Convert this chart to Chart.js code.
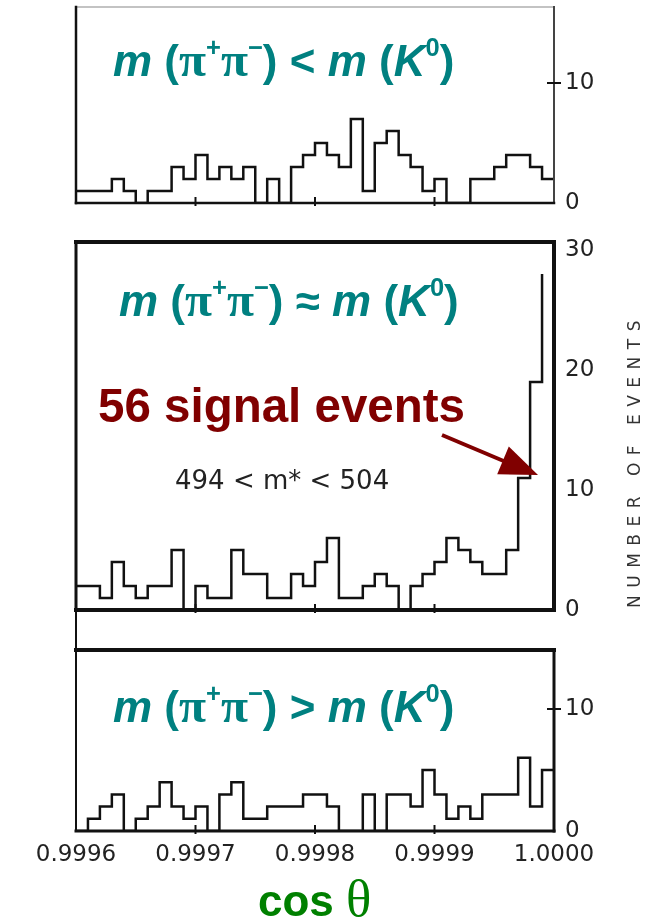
<!DOCTYPE html>
<html><head><meta charset="utf-8">
<script src="https://cdn.jsdelivr.net/npm/chart.js@4.4.1/dist/chart.umd.min.js"></script>
<style>
html,body{margin:0;padding:0;background:#fff;}
body{width:656px;height:918px;position:relative;overflow:hidden;}
canvas{position:absolute;left:0;}
.t{position:absolute;white-space:nowrap;line-height:1;}
.title{font-family:"Liberation Sans",Arial,sans-serif;font-weight:bold;font-size:44px;color:#008080;}
.title i{font-style:italic;}
.pi{font-family:"Liberation Serif","DejaVu Serif",serif;font-size:1.12em;font-weight:bold;}
.sup{font-size:0.58em;position:relative;top:-0.8em;}
.sig{font-family:"Liberation Sans",Arial,sans-serif;font-weight:bold;font-size:47.5px;color:#800000;}
.cut{font-family:"DejaVu Sans",sans-serif;font-size:26px;color:#222;}
.xl{font-family:"Liberation Sans",Arial,sans-serif;font-weight:bold;font-size:44px;color:#008000;}
.xl .th{font-family:"Liberation Serif",serif;font-weight:normal;font-size:1.2em;}
.yl{font-family:"DejaVu Sans",sans-serif;font-size:17px;color:#333;letter-spacing:7.5px;transform:rotate(-90deg);transform-origin:center center;}
svg{position:absolute;left:0;top:0;}
</style></head>
<body>
<canvas id="cTop" width="656" height="250" style="top:-20px"></canvas>
<canvas id="cMid" width="656" height="420" style="top:215px"></canvas>
<canvas id="cBot" width="656" height="295" style="top:623px"></canvas>

<div class="t title" style="left:113px;top:35px"><i>m</i> (<span class="pi">π</span><span class="sup">+</span><span class="pi">π</span><span class="sup">−</span>) &lt; <i>m</i> (<i>K</i><span class="sup">0</span>)</div>
<div class="t title" style="left:119px;top:275px"><i>m</i> (<span class="pi">π</span><span class="sup">+</span><span class="pi">π</span><span class="sup">−</span>) ≈ <i>m</i> (<i>K</i><span class="sup">0</span>)</div>
<div class="t title" style="left:113px;top:681px"><i>m</i> (<span class="pi">π</span><span class="sup">+</span><span class="pi">π</span><span class="sup">−</span>) &gt; <i>m</i> (<i>K</i><span class="sup">0</span>)</div>
<div class="t sig" style="left:98px;top:382px">56 signal events</div>
<div class="t cut" style="left:175px;top:467px">494 &lt; m* &lt; 504</div>
<div class="t xl" style="left:258px;top:872px">cos <span class="th">θ</span></div>
<div class="t yl" style="left:484px;top:452px;width:300px;text-align:center">NUMBER OF EVENTS</div>

<svg width="656" height="918">
  <line x1="76" y1="611" x2="76" y2="651" stroke="#111" stroke-width="2"/>
  <line x1="442" y1="435" x2="506" y2="462" stroke="#800000" stroke-width="4"/>
  <polygon points="538,475 508.8,446.6 497.2,474.2" fill="#800000"/>
</svg>

<script>
// ---- data ----
const binEdges = [0.99960,0.99961,0.99962,0.99963,0.99964,0.99965,0.99966,0.99967,0.99968,0.99969,
                  0.99970,0.99971,0.99972,0.99973,0.99974,0.99975,0.99976,0.99977,0.99978,0.99979,
                  0.99980,0.99981,0.99982,0.99983,0.99984,0.99985,0.99986,0.99987,0.99988,0.99989,
                  0.99990,0.99991,0.99992,0.99993,0.99994,0.99995,0.99996,0.99997,0.99998,0.99999,
                  1.00000];
const countsLow  = [1,1,1,2,1,0,1,1,3,2, 4,2,3,2,3,0,2,0,3,4, 5,4,3,7,1,5,6,4,3,1, 2,0,0,2,2,3,4,4,3,2];
const countsMid  = [2,2,1,4,2,1,2,2,5,0, 2,1,1,5,3,3,1,1,3,2, 4,6,1,1,2,3,2,0,2,3, 4,6,5,4,3,3,5,11,19,28];
const countsHigh = [0,1,2,3,0,1,2,4,2,1, 2,0,3,4,1,1,2,2,2,3, 3,2,0,0,3,0,3,3,2,5, 3,1,2,1,3,3,3,6,2,5];
const xTickValues = [0.9996, 0.9997, 0.9998, 0.9999, 1.0000];
const xTickLabels = ['0.9996', '0.9997', '0.9998', '0.9999', '1.0000'];
const yTicksTop = [0, 10];
const yTicksMid = [0, 10, 20, 30];
const yTicksBot = [0, 10];

function stepPoints(counts, closeRight) {
  const pts = counts.map((c, i) => ({x: binEdges[i], y: c}));
  if (closeRight) pts.push({x: binEdges[counts.length], y: counts[counts.length - 1]});
  return pts;
}

function framePlugin(cfg) {
  return {
    id: 'frame',
    afterDatasetsDraw(chart) {
      const {ctx, chartArea: a, scales} = chart;
      ctx.save();
      ctx.lineCap = 'square';
      const line = (x1, y1, x2, y2, s) => {
        if (!s) return;
        ctx.beginPath(); ctx.lineWidth = s.w; ctx.strokeStyle = s.c;
        ctx.moveTo(x1, y1); ctx.lineTo(x2, y2); ctx.stroke();
      };
      line(a.left, a.top, a.right, a.top, cfg.top);
      line(a.right, a.top, a.right, a.bottom, cfg.right);
      line(a.left, a.bottom, a.right, a.bottom, cfg.bottom);
      line(a.left, a.top, a.left, a.bottom, cfg.left);
      ctx.lineCap = 'butt';
      xTickValues.slice(1, 4).forEach(v => {
        const x = scales.x.getPixelForValue(v);
        line(x, a.bottom - 6, x, a.bottom + 3, {w: 2, c: '#111'});
      });
      (cfg.yCross || []).forEach(v => {
        const y = scales.y.getPixelForValue(v);
        line(a.right - 7, y, a.right + 7, y, {w: 2, c: '#111'});
      });
      ctx.restore();
    }
  };
}

function makeChart(id, counts, closeRight, yMax, yTicks, padBottom, showX, frame) {
  const xScale = {
    type: 'linear', min: 0.9996, max: 1.0, display: showX,
    grid: {display: false, drawTicks: false}, border: {display: false},
    afterBuildTicks: ax => { ax.ticks = xTickValues.map(v => ({value: v})); },
    ticks: {
      autoSkip: false, maxRotation: 0, padding: 10, color: '#222',
      font: {family: 'DejaVu Sans', size: 23},
      callback: (v, i) => xTickLabels[i]
    }
  };
  if (showX) xScale.afterFit = ax => { ax.height = 40; };
  return new Chart(document.getElementById(id), {
    type: 'line',
    data: {datasets: [{
      data: stepPoints(counts, closeRight),
      stepped: true, borderColor: '#111', borderWidth: 2.5,
      pointRadius: 0, fill: false, tension: 0
    }]},
    options: {
      responsive: false, animation: false, devicePixelRatio: 1,
      layout: {padding: {top: 27, bottom: padBottom, left: 76, right: 0}},
      plugins: {legend: {display: false}, tooltip: {enabled: false}},
      scales: {
        x: xScale,
        y: {
          position: 'right', min: 0, max: yMax,
          grid: {display: false, drawTicks: false}, border: {display: false},
          afterBuildTicks: ax => { ax.ticks = yTicks.map(v => ({value: v})); },
          afterFit: ax => { ax.width = 102; },
          ticks: {
            padding: 11, color: '#222',
            font: {family: 'DejaVu Sans', size: 23},
            callback: v => String(v)
          }
        }
      }
    },
    plugins: [framePlugin(frame)]
  });
}

makeChart('cTop', countsLow, true, (203 - 7) / 12, yTicksTop, 27, false, {
  top: {w: 1.2, c: '#888'}, right: {w: 2, c: '#444'}, bottom: {w: 2.5, c: '#111'}, left: {w: 2.5, c: '#111'}, yCross: [10]
});
makeChart('cMid', countsMid, false, (610 - 242) / 12, yTicksMid, 25, false, {
  top: {w: 4, c: '#111'}, right: {w: 4, c: '#111'}, bottom: {w: 4, c: '#111'}, left: {w: 3, c: '#111'}
});
makeChart('cBot', countsHigh, true, (831 - 650) / 12.2, yTicksBot, 47, true, {
  top: {w: 4, c: '#111'}, right: {w: 3, c: '#111'}, bottom: {w: 3, c: '#111'}, left: {w: 2, c: '#111'}, yCross: [10]
});
</script>
</body></html>
